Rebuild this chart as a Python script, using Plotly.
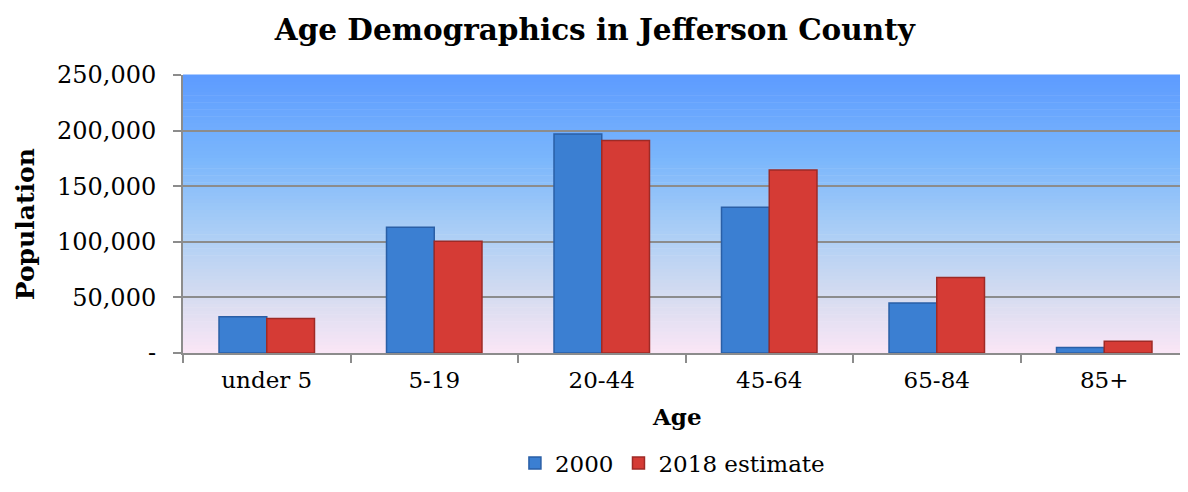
import plotly.graph_objects as go

categories = ["under 5", "5-19", "20-44", "45-64", "65-84", "85+"]
pop_2000 = [32500, 113000, 197000, 131000, 45000, 5000]
pop_2018 = [31000, 100500, 191000, 164500, 68000, 10500]
y_tickvals = [0, 50000, 100000, 150000, 200000, 250000]
y_ticktext = ["-", "50,000", "100,000", "150,000", "200,000", "250,000"]

FONT = "DejaVu Serif"

fig = go.Figure()
fig.add_trace(go.Bar(
    name="2000", x=categories, y=pop_2000,
    marker=dict(color="#3b7fd2", line=dict(color="#2a5fa6", width=1.5)),
))
fig.add_trace(go.Bar(
    name="2018 estimate", x=categories, y=pop_2018,
    marker=dict(color="#d53b35", line=dict(color="#9e2a26", width=1.5)),
))

# gradient background via stacked stripes
stops = [(0.0, (93, 155, 255)), (0.3, (122, 182, 252)), (0.55, (168, 205, 246)),
         (0.8, (214, 220, 240)), (1.0, (250, 230, 246))]
def col(t):
    for (t0, c0), (t1, c1) in zip(stops[:-1], stops[1:]):
        if t0 <= t <= t1:
            f = (t - t0) / (t1 - t0)
            return "rgb(%d,%d,%d)" % tuple(round(a + (b - a) * f) for a, b in zip(c0, c1))
    return "rgb(%d,%d,%d)" % stops[-1][1]
N = 80
shapes = []
for i in range(N):
    y1 = 1 - i / N
    y0 = 1 - (i + 1) / N
    shapes.append(dict(type="rect", xref="paper", yref="paper", x0=0, x1=1,
                       y0=y0, y1=y1 + 0.002, fillcolor=col((i + 0.5) / N),
                       line=dict(width=0), layer="below"))

fig.update_layout(
    width=1188, height=492,
    paper_bgcolor="white", plot_bgcolor="rgba(0,0,0,0)",
    shapes=shapes,
    barmode="group", bargap=0.43, bargroupgap=0,
    margin=dict(l=175, r=8, t=67, b=147, autoexpand=False),
    font=dict(family=FONT, color="black", size=23),
    title=dict(text="<b>Age Demographics in Jefferson County</b>",
               x=0.494, xanchor="center", xref="container", y=0.955, yanchor="middle",
               font=dict(family=FONT, size=29.5, color="black")),
    xaxis=dict(automargin=False,
               showline=True, linecolor="#8c8c8c", linewidth=2,
               ticks="outside", tickson="boundaries", ticklen=8, tickcolor="#8c8c8c",
               tickwidth=1.5, tickfont=dict(size=23), showgrid=False,
               ticklabelstandoff=5),
    yaxis=dict(automargin=False,
               range=[0, 250000], tickvals=y_tickvals, ticktext=y_ticktext,
               showline=True, linecolor="#8c8c8c", linewidth=2,
               ticks="outside", ticklen=8, tickcolor="#8c8c8c", tickwidth=1.5,
               gridcolor="#8c8c8c", gridwidth=1.5, tickfont=dict(size=24),
               zeroline=False, ticklabelstandoff=12),
    legend=dict(orientation="h", x=0.487, xanchor="center", y=-0.396, yanchor="middle",
                font=dict(size=23), itemwidth=30, traceorder="normal"),
    annotations=[
        dict(text="<b>Population</b>", textangle=-90, xref="paper", yref="paper",
             x=-0.157, y=0.464, xanchor="center", yanchor="middle", showarrow=False,
             font=dict(size=25)),
        dict(text="<b>Age</b>", xref="paper", yref="paper",
             x=0.4915, y=-0.227, xanchor="center", yanchor="middle", showarrow=False,
             font=dict(size=23)),
    ],
)

fig.write_html("out.html")
